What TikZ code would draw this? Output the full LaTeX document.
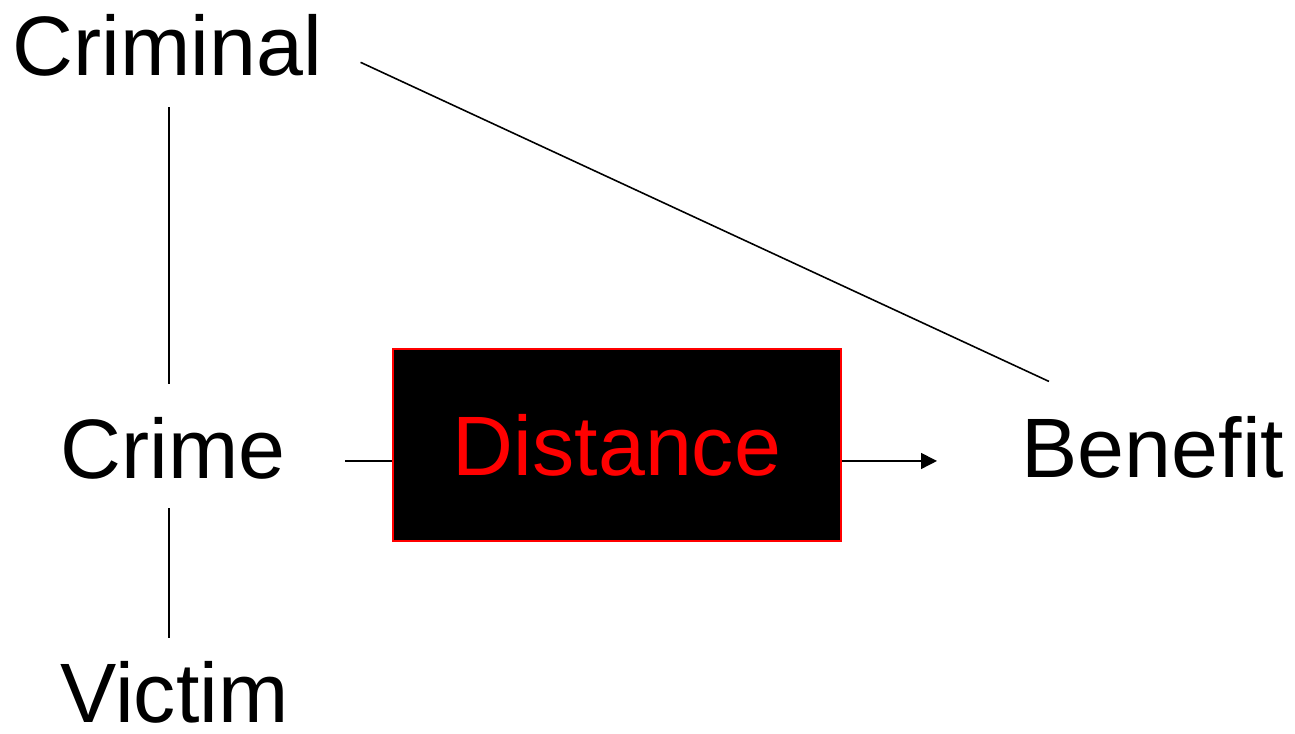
\documentclass[tikz,border=0pt]{standalone}
\usepackage{fontspec}
\setmainfont{Liberation Sans}
\usetikzlibrary{calc,arrows.meta}
\tikzset{
	word/.style={anchor=base, font=\fontsize{24}{28}\selectfont},
	wire/.style={line width=0.45pt, color=black},
	distbox/.style={draw=red, fill=black, line width=0.6pt, text=red, minimum width=4.48cm, minimum height=1.92cm, font=\fontsize{24}{28}\selectfont}
}

\begin{document}
\begin{tikzpicture}
		%%%%% START %%%%%
		\useasboundingbox (0, 0) rectangle (12.95, 7.34);
		
		\node[word] (criminal) at (1.675, 6.58) {Criminal};
		\node[word] (crime) at (1.73, 2.55) {Crime};
		\node[word] (victim) at (1.745, 0.11) {Victim};
		\node[word] (benefit) at (11.53, 2.56) {Benefit};
		
		\node[distbox] (dist) at (6.17, 2.89) {Distance};
		
		\coordinate (axis) at (1.69, 0);
		\coordinate (in) at (3.45, 2.73);
		\coordinate (out) at (9.37, 2.73);
		
		\draw[wire, shorten <=0.18cm, shorten >=0.21cm] (criminal.south -| axis) -- (crime.north -| axis);
		\draw[wire, shorten <=0.16cm, shorten >=0.11cm] (crime.south -| axis) -- (victim.north -| axis);
		
		\draw[wire] (in) -- (in -| dist.west);
		\draw[wire, -{Triangle[length=0.16cm, width=0.16cm]}] (out -| dist.east) -- (out);
		
		\draw[wire] ($(criminal.east)+(0.26, -0.165)$) -- ($(benefit.north)+(-1.04, 0.23)$);
		%%%%% END %%%%%
\end{tikzpicture}
\end{document}
